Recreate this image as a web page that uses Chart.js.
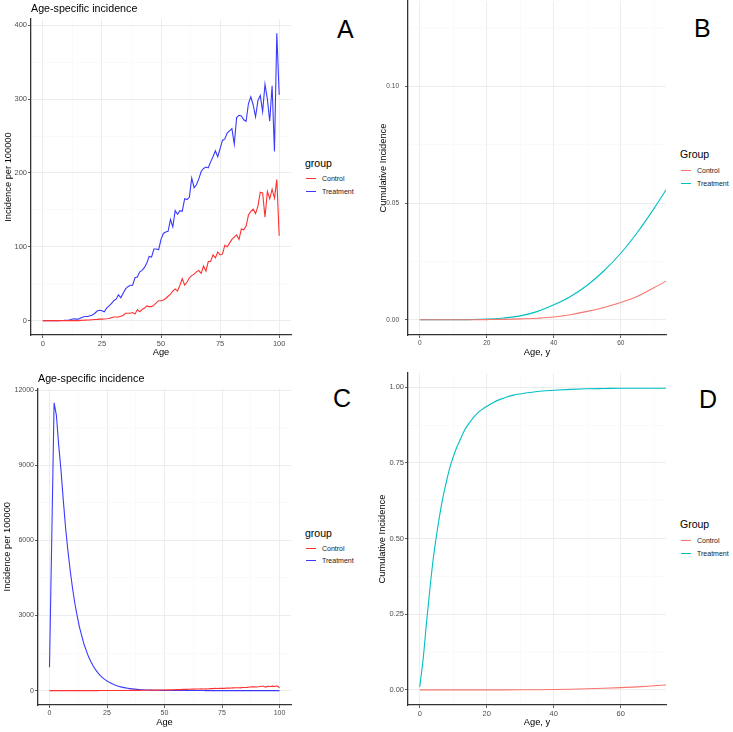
<!DOCTYPE html>
<html>
<head>
<meta charset="utf-8">
<script src="https://cdn.jsdelivr.net/npm/chart.js@4.4.1/dist/chart.umd.min.js"></script>
<style>
  body { margin: 0; background: #fff; width: 733px; height: 732px; position: relative; overflow: hidden;
         font-family: "Liberation Sans", Arial, sans-serif; }
  canvas { position: absolute; }
  .t { position: absolute; white-space: nowrap; line-height: 1; transform: translateY(-50%); color: #000; }
  .ttl { font-size: 10.7px; }
  .letter { font-size: 25px; }
  .lgt { font-size: 10.5px; }
  .lgi { font-size: 7px; color: #1a1a1a; }
  .key { position: absolute; width: 10px; height: 0; border-top: 1.2px solid; }
</style>
</head>
<body>
<canvas id="cA" width="295" height="366" style="left:0;top:0"></canvas>
<canvas id="cB" width="304" height="366" style="left:366px;top:0"></canvas>
<canvas id="cC" width="295" height="366" style="left:0;top:366px"></canvas>
<canvas id="cD" width="304" height="366" style="left:366px;top:366px"></canvas>

<div class="t ttl" style="left:31px;top:8px">Age-specific incidence</div>
<div class="t ttl" style="left:38px;top:378px">Age-specific incidence</div>
<div class="t letter" style="left:337px;top:29px">A</div>
<div class="t letter" style="left:694px;top:28px">B</div>
<div class="t letter" style="left:333px;top:398px">C</div>
<div class="t letter" style="left:699px;top:399px">D</div>

<div class="t lgt" style="left:305px;top:163px">group</div>
<div class="key" style="left:306px;top:178px;border-color:#ff3030"></div>
<div class="t lgi" style="left:322px;top:178px">Control</div>
<div class="key" style="left:306px;top:191px;border-color:#3a3aff"></div>
<div class="t lgi" style="left:322px;top:191px">Treatment</div>

<div class="t lgt" style="left:680px;top:154px">Group</div>
<div class="key" style="left:681px;top:170px;border-color:#F8766D"></div>
<div class="t lgi" style="left:697px;top:170px">Control</div>
<div class="key" style="left:681px;top:183px;border-color:#00BFC4"></div>
<div class="t lgi" style="left:697px;top:183px">Treatment</div>

<div class="t lgt" style="left:305px;top:533px">group</div>
<div class="key" style="left:306px;top:548px;border-color:#ff3030"></div>
<div class="t lgi" style="left:322px;top:548px">Control</div>
<div class="key" style="left:306px;top:560px;border-color:#3a3aff"></div>
<div class="t lgi" style="left:322px;top:560px">Treatment</div>

<div class="t lgt" style="left:680px;top:524px">Group</div>
<div class="key" style="left:681px;top:540px;border-color:#F8766D"></div>
<div class="t lgi" style="left:697px;top:540px">Control</div>
<div class="key" style="left:681px;top:553px;border-color:#00BFC4"></div>
<div class="t lgi" style="left:697px;top:553px">Treatment</div>

<script>
// ages 0..100 for the incidence panels
const ages = Array.from({length: 101}, (_, i) => i);

// panel A: age-specific incidence per 100000
const controlA = [
  0, 0, 0, 0, 0, 0, 0, 0, 0, 0,
  0, 0, 0, 0, 0, 0, 0.3, 0.5, 0.7, 0.9,
  1, 1.2, 1.5, 1.7, 2, 2, 2.3, 2.5, 3, 4,
  5, 5, 5, 6, 7, 10, 10, 10, 11, 9,
  15, 12, 15, 17, 20, 19, 19, 21, 24, 27,
  27, 28, 30, 33, 36, 40, 43, 40, 48, 57,
  48, 52, 58, 61, 63, 66, 68, 64, 74, 67,
  80, 80, 89, 85, 93, 89, 90, 102, 100, 105,
  110, 113, 116, 110, 124, 123, 128, 143, 148, 151,
  145, 155, 174, 173, 140, 175, 165, 178, 166, 191,
  115];
const treatmentA = [
  0, 0, 0, 0, 0, 0, 0, 0, 0.2, 0.3,
  0.5, 0.8, 1.5, 2.5, 2, 2, 3.5, 5, 5.5, 5.5,
  6.5, 7.5, 10, 13, 14, 13.5, 12, 17, 20, 23,
  27, 29, 35, 31, 37, 43, 46, 48, 48, 58,
  59, 66, 68, 72, 78, 87, 86, 97, 97, 96,
  110, 118, 120, 121, 137, 127, 149, 144, 149, 148,
  165, 164, 167, 193, 180, 184, 192, 202, 206, 208,
  207, 215, 222, 230, 222, 233, 244, 246, 254, 257,
  260, 239, 275, 278, 277, 272, 270, 294, 303, 292,
  276, 298, 305, 283, 320, 300, 270, 318, 229, 389,
  306];

// panel C: age-specific incidence, treatment peaks early
const treatmentC = [
  930, 6200, 11500, 11000, 9800, 8800, 7600, 6500, 5600, 4800,
  4100, 3500, 3000, 2550, 2200, 1850, 1600, 1350, 1150, 980,
  840, 720, 610, 520, 450, 385, 330, 280, 240, 205,
  175, 150, 128, 110, 94, 80, 68, 58, 50, 43,
  37, 32, 27, 23, 20, 17, 15, 13, 11, 9,
  8, 7, 6, 6, 5, 5, 4, 4, 3, 3,
  3, 3, 2, 2, 2, 2, 2, 2, 1, 1,
  1, 1, 1, 1, 1, 1, 1, 1, 1, 1,
  1, 1, 1, 0, 0, 0, 0, 0, 0, 0,
  0, 0, 0, 0, 0, 0, 0, 0, 0, 0,
  0];
const controlC = controlA;

// panel B: cumulative incidence
const agesB = [0, 5, 10, 15, 20, 25, 30, 35, 40, 45, 50, 55, 60, 65, 70, 75];
const controlB = [0, 0, 0, 0.00003, 0.0001, 0.0002, 0.0004, 0.0007, 0.0012, 0.0022, 0.0036, 0.0053, 0.0074, 0.0101, 0.0138, 0.0178];
const treatmentB = [0, 0, 0.00001, 0.0001, 0.0003, 0.0008, 0.0017, 0.0035, 0.0064, 0.0100, 0.0148, 0.0210, 0.0285, 0.0375, 0.0478, 0.0590];

// panel D: cumulative incidence
const agesD = [0, 1, 2, 3, 4, 5, 6, 7, 8, 9, 10, 11, 12, 13, 14, 15, 16, 17, 18, 19, 20,
  22, 24, 26, 28, 30, 35, 40, 45, 50, 55, 60, 65, 70, 75];
const treatmentD = [0.01, 0.10, 0.22, 0.33, 0.43, 0.51, 0.58, 0.64, 0.69, 0.735, 0.77,
  0.80, 0.825, 0.85, 0.87, 0.885, 0.90, 0.912, 0.922, 0.93, 0.937,
  0.95, 0.96, 0.968, 0.974, 0.978, 0.986, 0.99, 0.993, 0.995, 0.996, 0.997, 0.997, 0.997, 0.997];
const controlD = controlB;

// tick values
const xTicksAge = [0, 25, 50, 75, 100], xMinorAge = [12.5, 37.5, 62.5, 87.5];
const xTicksCum = [0, 20, 40, 60], xMinorCum = [10, 30, 50, 70];
const yTicksA = [0, 100, 200, 300, 400], yMinorA = [50, 150, 250, 350];
const yTicksB = [0, 0.05, 0.10], yMinorB = [0.025, 0.075, 0.125];
const yTicksC = [0, 3000, 6000, 9000, 12000], yMinorC = [1500, 4500, 7500, 10500];
const yTicksD = [0, 0.25, 0.5, 0.75, 1.0], yMinorD = [0.125, 0.375, 0.625, 0.875];

function expand(lo, hi) {
  const d = (hi - lo) * 0.05;
  return [lo - d, hi + d];
}

function axis(range, major, minor, fmt, title, o) {
  return {
    type: 'linear',
    min: range[0], max: range[1],
    afterBuildTicks: s => {
      s.ticks = major.concat(minor).sort((a, b) => a - b).map(v => ({value: v}));
    },
    afterFit: s => {
      if (s.isHorizontal()) s.height = o.size; else s.width = o.size;
      // no extra room for edge labels, the layout padding handles it
      s.paddingTop = s.paddingBottom = s.paddingLeft = s.paddingRight = 0;
    },
    grid: {
      color: c => major.includes(c.tick && c.tick.value) ? '#ebebeb' : '#f4f4f4',
      lineWidth: c => major.includes(c.tick && c.tick.value) ? 0.9 : 0.5,
      tickColor: c => major.includes(c.tick && c.tick.value) ? '#333' : 'rgba(0,0,0,0)',
      tickLength: 3,
      tickWidth: 0.8
    },
    border: {display: true, color: '#333', width: 1.3},
    ticks: {
      autoSkip: false, maxRotation: 0,
      padding: o.tickPad,
      color: '#4d4d4d',
      font: {family: '"Liberation Sans", Arial, sans-serif', size: o.tickSize},
      callback: v => major.includes(v) ? fmt(v) : ''
    },
    title: {
      display: true, text: title, color: '#000',
      font: {family: '"Liberation Sans", Arial, sans-serif', size: 9.3},
      padding: {top: o.titlePad, bottom: o.titlePad}
    }
  };
}

function panel(id, sets, pad, xAxis, yAxis) {
  new Chart(document.getElementById(id), {
    type: 'line',
    data: {
      datasets: sets.map(s => ({
        data: s.x.map((a, i) => ({x: a, y: s.y[i]})),
        borderColor: s.color,
        borderWidth: 1.1,
        pointRadius: 0,
        fill: false,
        tension: 0,
        cubicInterpolationMode: s.smooth ? 'monotone' : 'default'
      }))
    },
    options: {
      responsive: false,
      animation: false,
      devicePixelRatio: 1,
      layout: {padding: pad},
      plugins: {legend: {display: false}, tooltip: {enabled: false}},
      scales: {x: xAxis, y: yAxis}
    }
  });
}

const fmtInt = v => String(v);
const fmt2 = v => v.toFixed(2);

panel('cA',
  [{x: ages, y: controlA, color: '#ff3030'}, {x: ages, y: treatmentA, color: '#3a3aff'}],
  {left: 0, top: 19, right: 4, bottom: 0},
  axis(expand(0, 100), xTicksAge, xMinorAge, fmtInt, 'Age', {size: 31, tickPad: 1, tickSize: 7.5, titlePad: 8.4}),
  axis(expand(0, Math.max(...treatmentA)), yTicksA, yMinorA, fmtInt, 'Incidence per 100000', {size: 31, tickPad: 1, tickSize: 7.5, titlePad: 2.4})
);

panel('cB',
  [{x: agesB, y: controlB, color: '#F8766D', smooth: true}, {x: agesB, y: treatmentB, color: '#00BFC4', smooth: true}],
  {left: 0, top: 1, right: 4, bottom: 0},
  axis(expand(0, 70), xTicksCum, xMinorCum, fmtInt, 'Age, y', {size: 31, tickPad: 1, tickSize: 6.5, titlePad: 8.4}),
  axis(expand(0, 0.13), yTicksB, yMinorB, fmt2, 'Cumulative Incidence', {size: 42, tickPad: 6, tickSize: 6.5, titlePad: 11.7})
);

panel('cC',
  [{x: ages, y: controlC, color: '#ff3030'}, {x: ages, y: treatmentC, color: '#3a3aff'}],
  {left: 0, top: 22.4, right: 4, bottom: 0},
  axis(expand(0, 100), xTicksAge, xMinorAge, fmtInt, 'Age', {size: 27, tickPad: 1, tickSize: 7, titlePad: 3.7}),
  axis(expand(0, Math.max(...treatmentC)), yTicksC, yMinorC, fmtInt, 'Incidence per 100000', {size: 38, tickPad: 1, tickSize: 7, titlePad: 1.7})
);

panel('cD',
  [{x: agesB, y: controlD, color: '#F8766D', smooth: true}, {x: agesD, y: treatmentD, color: '#00BFC4', smooth: true}],
  {left: 0, top: 7.1, right: 4, bottom: 0},
  axis(expand(0, 70), xTicksCum, xMinorCum, fmtInt, 'Age, y', {size: 27, tickPad: 1, tickSize: 7.5, titlePad: 3.7}),
  axis(expand(0, 0.997), yTicksD, yMinorD, fmt2, 'Cumulative Incidence', {size: 42, tickPad: 1, tickSize: 7.5, titlePad: 11.1})
);
</script>
</body>
</html>
